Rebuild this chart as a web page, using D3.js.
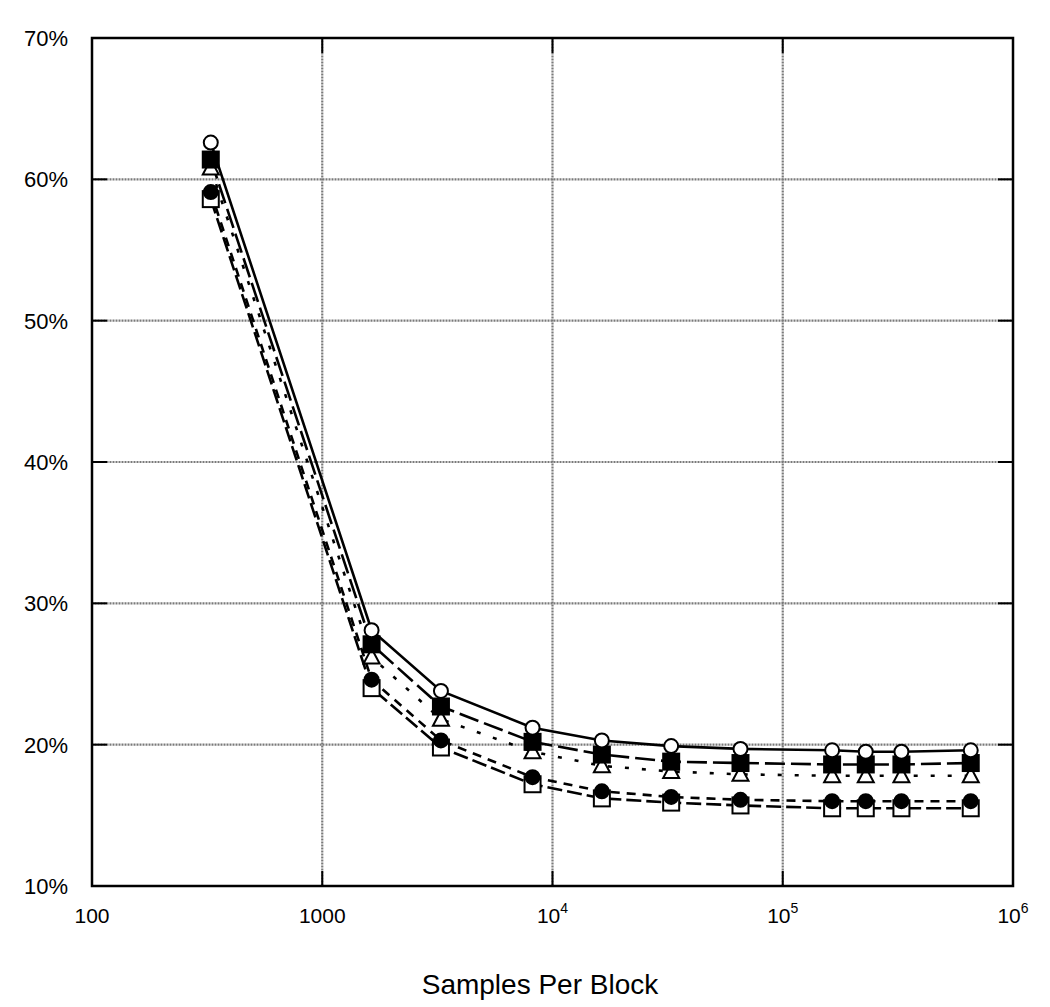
<!DOCTYPE html>
<html>
<head>
<meta charset="utf-8">
<script src="https://cdn.jsdelivr.net/npm/d3@7"></script>
<style>
  body { margin: 0; background: #fff; }
  text { font-family: "Liberation Sans", Arial, sans-serif; fill: #000; }
</style>
</head>
<body>
<svg id="chart" width="1050" height="1007"></svg>
<script>
// samples per block (x values)
var samples = [328, 1638, 3277, 8192, 16384, 32768, 65536, 163840, 229376, 327680, 655360];

// error rates (percent), one array per series
var openCircle   = [62.6, 28.1, 23.8, 21.2, 20.3, 19.9, 19.7, 19.6, 19.5, 19.5, 19.6];
var filledSquare = [61.4, 27.1, 22.7, 20.2, 19.3, 18.8, 18.7, 18.6, 18.6, 18.6, 18.7];
var triangle     = [60.8, 26.2, 21.8, 19.5, 18.5, 18.1, 17.9, 17.8, 17.8, 17.8, 17.8];
var filledCircle = [59.1, 24.6, 20.3, 17.7, 16.7, 16.3, 16.1, 16.0, 16.0, 16.0, 16.0];
var openSquare   = [58.6, 24.0, 19.8, 17.2, 16.2, 15.9, 15.7, 15.5, 15.5, 15.5, 15.5];

var xTicks = [100, 1000, 1e4, 1e5, 1e6];
var xTickLabels = [["100", ""], ["1000", ""], ["10", "4"], ["10", "5"], ["10", "6"]];
var yTicks = [10, 20, 30, 40, 50, 60, 70];

var series = [
    {name: "openCircle",   values: openCircle,   dash: null,    shape: "circle",   fill: "#fff"},
    {name: "filledSquare", values: filledSquare, dash: "20,6",  shape: "square",   fill: "#000"},
    {name: "triangle",     values: triangle,     dash: "4,13",  shape: "triangle", fill: "#fff"},
    {name: "filledCircle", values: filledCircle, dash: "9,7",   shape: "circle",   fill: "#000"},
    {name: "openSquare",   values: openSquare,   dash: "15,5",  shape: "square",   fill: "#fff"}
];

var svg = d3.select("#chart");
var plotL = 92, plotR = 1013, plotT = 38, plotB = 886;

var x = d3.scaleLog().domain([100, 1e6]).range([plotL, plotR]);
var y = d3.scaleLinear().domain([10, 70]).range([plotB, plotT]);

// grid
var grid = svg.append("g");
grid.selectAll("line.gx").data(xTicks.slice(1, -1)).enter().append("line")
    .attr("x1", d => x(d)).attr("x2", d => x(d))
    .attr("y1", plotT).attr("y2", plotB)
    .attr("stroke", "#7a7a7a").attr("stroke-width", 2.2).attr("stroke-dasharray", "1,0.5");
grid.selectAll("line.gy").data(yTicks.slice(1, -1)).enter().append("line")
    .attr("x1", plotL).attr("x2", plotR)
    .attr("y1", d => y(d)).attr("y2", d => y(d))
    .attr("stroke", "#7a7a7a").attr("stroke-width", 2.2).attr("stroke-dasharray", "1,0.5");

// inner ticks on all four sides
var tickLen = 15;
var ticks = svg.append("g").attr("stroke", "#000").attr("stroke-width", 2);
yTicks.forEach(function (v) {
    ticks.append("line").attr("x1", plotL).attr("x2", plotL + tickLen).attr("y1", y(v)).attr("y2", y(v));
    ticks.append("line").attr("x1", plotR - tickLen).attr("x2", plotR).attr("y1", y(v)).attr("y2", y(v));
});
xTicks.forEach(function (v) {
    ticks.append("line").attr("x1", x(v)).attr("x2", x(v)).attr("y1", plotB).attr("y2", plotB - tickLen);
    ticks.append("line").attr("x1", x(v)).attr("x2", x(v)).attr("y1", plotT).attr("y2", plotT + tickLen);
});

// lines
var line = d3.line()
    .x((d, i) => x(samples[i]))
    .y(d => y(d));

svg.append("g").selectAll("path").data(series).enter().append("path")
    .attr("d", d => line(d.values))
    .attr("fill", "none")
    .attr("stroke", "#000")
    .attr("stroke-width", 2.6)
    .attr("stroke-dasharray", d => d.dash);

// markers (bottom series first so upper ones sit on top)
var markers = svg.append("g");
series.slice().reverse().forEach(function (s) {
    var g = markers.append("g");
    var pts = s.values.map((v, i) => ({x: x(samples[i]), y: y(v)}));
    if (s.shape === "circle") {
        g.selectAll("circle").data(pts).enter().append("circle")
            .attr("cx", d => d.x).attr("cy", d => d.y).attr("r", 7)
            .attr("fill", s.fill).attr("stroke", "#000").attr("stroke-width", 2);
    } else if (s.shape === "square") {
        g.selectAll("rect").data(pts).enter().append("rect")
            .attr("x", d => d.x - 8).attr("y", d => d.y - 8)
            .attr("width", 16).attr("height", 16)
            .attr("fill", s.fill).attr("stroke", "#000").attr("stroke-width", 2);
    } else {
        g.selectAll("path").data(pts).enter().append("path")
            .attr("d", d => "M" + d.x + "," + (d.y - 8.5) + "L" + (d.x + 8) + "," + (d.y + 6.5) + "L" + (d.x - 8) + "," + (d.y + 6.5) + "Z")
            .attr("fill", s.fill).attr("stroke", "#000").attr("stroke-width", 2);
    }
});

// frame
svg.append("rect")
    .attr("x", plotL).attr("y", plotT)
    .attr("width", plotR - plotL).attr("height", plotB - plotT)
    .attr("fill", "none").attr("stroke", "#000").attr("stroke-width", 2.5);

// y labels
svg.append("g").selectAll("text").data(yTicks).enter().append("text")
    .attr("x", 68).attr("y", d => y(d) + 8)
    .attr("text-anchor", "end")
    .attr("font-size", 22)
    .text(d => d + "%");

// x labels
var xl = svg.append("g").selectAll("text").data(xTicks).enter().append("text")
    .attr("x", d => x(d)).attr("y", 923)
    .attr("text-anchor", "middle")
    .attr("font-size", 21);
xl.append("tspan").text((d, i) => xTickLabels[i][0]);
xl.append("tspan").attr("dy", -10).attr("font-size", 14).text((d, i) => xTickLabels[i][1]);

svg.append("text")
    .attr("x", 540).attr("y", 994)
    .attr("text-anchor", "middle")
    .attr("font-size", 28)
    .text("Samples Per Block");
</script>
</body>
</html>
